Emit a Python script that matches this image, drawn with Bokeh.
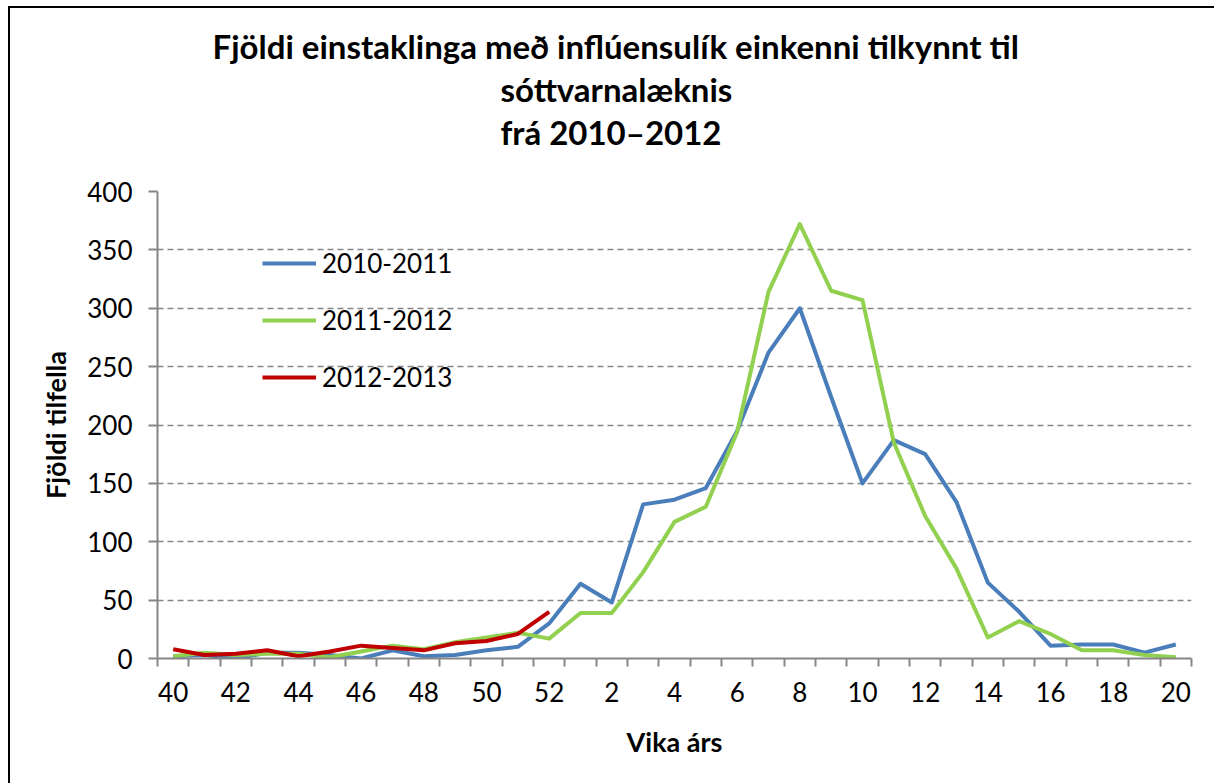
from bokeh.plotting import figure
from bokeh.models import (Range1d, FixedTicker, Legend, LegendItem, Title, InlineStyleSheet)
from bokeh.embed import file_html
from bokeh.resources import INLINE

# ---- data ----
weeks = ["40", "41", "42", "43", "44", "45", "46", "47", "48", "49", "50", "51", "52",
         "1", "2", "3", "4", "5", "6", "7", "8", "9", "10", "11", "12", "13", "14",
         "15", "16", "17", "18", "19", "20"]
s2010 = [2, 3, 0, 5, 5, 3, 0, 7, 2, 3, 7, 10, 30,
         64, 48, 132, 136, 146, 195, 262, 300, 224, 150, 187, 175, 134, 65,
         40, 11, 12, 12, 5, 12]
s2011 = [2, 5, 3, 4, 4, 1, 6, 11, 8, 14, 18, 22, 17,
         39, 39, 74, 117, 130, 194, 314, 372, 315, 307, 185, 122, 77, 18,
         32, 21, 7, 7, 3, 1]
s2012 = [8, 3, 4, 7, 2, 6, 11, 9, 7, 13, 15, 21, 40]
series_names = ["2010-2011", "2011-2012", "2012-2013"]
y_ticks = [0, 50, 100, 150, 200, 250, 300, 350, 400]
title_lines = ["Fjöldi einstaklinga með inflúensulík einkenni tilkynnt til",
               "sóttvarnalæknis",
               "frá 2010–2012"]
x_title = "Vika árs"
y_title = "Fjöldi tilfella"

FONT = "Lato"
C_BLUE = "#4A7EBB"
C_GREEN = "#92D050"
C_RED = "#C00000"
GREY = "#868686"

n = len(weeks)
xs = list(range(n))

W, H = 1214, 783
FL, FT, FR, FB = 157, 191, 1191, 658
p = figure(width=W, height=H, output_backend="svg", toolbar_location=None,
           x_range=Range1d(-0.5, n - 0.5), y_range=Range1d(0, 400),
           min_border_left=FL, min_border_right=W - FR, min_border_top=FT,
           min_border_bottom=H - FB)
p.outline_line_color = None
p.background_fill_color = "white"
p.border_fill_color = "white"

# outer chart border: only top and left edges are visible in the original
p.stylesheets = [InlineStyleSheet(css=(
    ":host{position:relative;overflow:hidden;}"
    ":host::after{content:'';position:absolute;left:8px;top:6px;"
    "width:3000px;height:3000px;box-sizing:border-box;"
    "border-left:2.5px solid #000;border-top:2.5px solid #000;"
    "border-right:none;border-bottom:none;"
    "pointer-events:none;z-index:5;}"))]

# axes
p.xaxis.ticker = FixedTicker(ticks=xs[::2], minor_ticks=[i - 0.5 for i in range(n + 1)])
p.xaxis.major_label_overrides = {i: weeks[i] for i in xs}
p.yaxis.ticker = FixedTicker(ticks=y_ticks)
for ax in (p.xaxis[0], p.yaxis[0]):
    ax.axis_line_color = GREY
    ax.axis_line_width = 2
    ax.major_tick_line_color = GREY
    ax.major_tick_line_width = 2
    ax.minor_tick_line_color = GREY
    ax.minor_tick_line_width = 2
    ax.major_label_text_font = FONT
    ax.major_label_text_font_size = "26px"
    ax.major_label_text_color = "black"
    ax.axis_label_text_font = FONT
    ax.axis_label_text_font_style = "bold"
    ax.axis_label_text_font_size = "27px"
    ax.axis_label_text_color = "black"
p.xaxis.major_tick_out = 0
p.xaxis.major_tick_in = 0
p.xaxis.minor_tick_out = 8
p.xaxis.minor_tick_in = 0
p.xaxis.major_label_standoff = 15
p.xaxis.axis_label = x_title
p.xaxis.axis_label_standoff = 20
p.yaxis.major_tick_out = 9
p.yaxis.major_tick_in = 0
p.yaxis.minor_tick_out = 0
p.yaxis.minor_tick_in = 0
p.yaxis.major_label_standoff = 16
p.yaxis.axis_label = y_title
p.yaxis.axis_label_standoff = 12

p.xgrid.grid_line_color = None
p.ygrid.grid_line_color = GREY
p.ygrid.grid_line_dash = "6 4"
p.ygrid.grid_line_width = 1.5

r1 = p.line(xs, s2010, line_color=C_BLUE, line_width=4, line_join="round")
r2 = p.line(xs, s2011, line_color=C_GREEN, line_width=4, line_join="round")
r3 = p.line(xs[:len(s2012)], s2012, line_color=C_RED, line_width=4, line_join="round")

legend = Legend(items=[LegendItem(label=series_names[0], renderers=[r1]),
                       LegendItem(label=series_names[1], renderers=[r2]),
                       LegendItem(label=series_names[2], renderers=[r3])],
                location=(105, 265), orientation="vertical",
                border_line_color=None, background_fill_alpha=0,
                padding=0, margin=0, spacing=25,
                glyph_width=54, glyph_height=30, label_height=30,
                label_standoff=6, label_text_font=FONT,
                label_text_font_size="26px", label_text_color="black")
p.add_layout(legend, "center")

# spacer between title block and plot area, then title lines (nearest first)
p.add_layout(Title(text=" ", text_font_size="10px", standoff=25), "above")
offsets = [55, 343, 343]
for i in (2, 1, 0):
    p.add_layout(Title(text=title_lines[i], align="left", offset=offsets[i],
                       text_font=FONT, text_font_style="bold", text_font_size="33px",
                       text_color="black", standoff=1, vertical_align="middle"), "above")

open("out.html", "w").write(file_html(p, INLINE))
